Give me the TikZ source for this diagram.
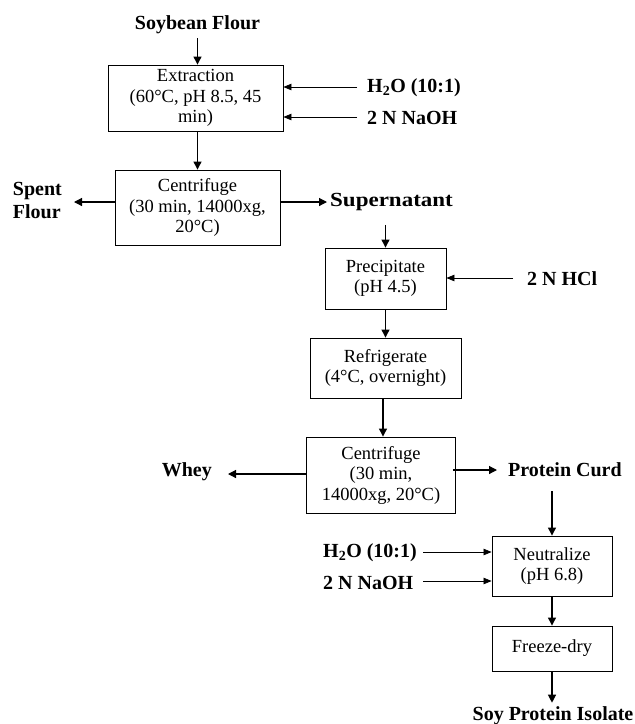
\documentclass[tikz,border=0pt]{standalone}
\usepackage{fontspec}
\setmainfont{Liberation Serif}
\usetikzlibrary{arrows.meta}
\begin{document}
\begin{tikzpicture}[x=1pt,y=-1pt,
  every node/.style={font=\fontsize{18.5}{20.5}\selectfont},
  procbox/.style={draw, line width=0.9pt, align=center, inner sep=0pt},
  lbl/.style={font=\fontsize{20}{23}\selectfont\bfseries, align=left, inner sep=0pt},
  flow/.style={line width=1.2pt, -{Triangle[length=8pt,width=8pt]}},
  feed/.style={line width=0.7pt, -{Triangle[length=8pt,width=6.5pt]}}]
\useasboundingbox (0,0) rectangle (635,724);
% boxes
\node[procbox, minimum width=175pt, minimum height=66pt] (ext) at (195.5,98) {Extraction\\(60°C, pH 8.5, 45\\min)};
\node[procbox, minimum width=165pt, minimum height=75pt] (cen1) at (197.5,207.5) {Centrifuge\\(30 min, 14000xg,\\20°C)};
\node[procbox, minimum width=121pt, minimum height=61pt] (prec) at (385.5,278.5) {Precipitate\\(pH 4.5)};
\node[procbox, minimum width=151pt, minimum height=60pt] (refr) at (385.5,368) {Refrigerate\\(4°C, overnight)};
\node[procbox, minimum width=149pt, minimum height=76pt] (cen2) at (381,475) {Centrifuge\\(30 min,\\14000xg, 20°C)};
\node[procbox, minimum width=120pt, minimum height=60pt] (neut) at (552,566) {Neutralize\\(pH 6.8)};
\node[procbox, minimum width=120pt, minimum height=45pt] (fd) at (552,648.5) {Freeze-dry};
% labels
\node[lbl] (soy) at (197.5,25) {Soybean Flour};
\node[lbl, anchor=west] (h2oa) at (367,88) {H\textsubscript{2}O (10:1)};
\node[lbl, anchor=west] (naoha) at (367,118) {2 N NaOH};
\node[lbl, anchor=east] (spent) at (62,200) {Spent\\Flour};
\node[lbl, anchor=west] (sup) at (330,202) {\scalebox{1.15}[1]{Supernatant}};
\node[lbl, anchor=west] (hcl) at (527,279) {2 N HCl};
\node[lbl, anchor=east] (whey) at (212,472) {Whey};
\node[lbl, anchor=west] (curd) at (508,470) {Protein Curd};
\node[lbl, anchor=west] (h2ob) at (323,553) {H\textsubscript{2}O (10:1)};
\node[lbl, anchor=west] (naohb) at (323,583) {2 N NaOH};
\node[lbl] (spi) at (553,716) {Soy Protein Isolate};
% connectors
\draw[flow, shorten <=4pt] (soy.south) -- (soy.south |- ext.north);
\draw[feed, shorten <=10pt] (h2oa.west |- 0,87) -- (ext.east |- 0,87);
\draw[feed, shorten <=10pt] (naoha.west |- 0,117) -- (ext.east |- 0,117);
\draw[flow] (cen1.north |- ext.south) -- (cen1.north);
\draw[flow, shorten >=12pt] (cen1.west |- 0,202) -- (spent.east |- 0,202);
\draw[flow, shorten >=3pt] (cen1.east |- 0,202) -- (sup.west |- 0,202);
\draw[flow, shorten <=14pt] (prec.north |- sup.south) -- (prec.north);
\draw[feed, shorten <=14pt] (hcl.west |- 0,278) -- (prec.east |- 0,278);
\draw[flow] (prec.south) -- (refr.north);
\draw[flow] ([xshift=2pt]cen2.north |- refr.south) -- ([xshift=2pt]cen2.north);
\draw[flow, shorten >=16pt] (cen2.west |- 0,474) -- (whey.east |- 0,474);
\draw[flow, shorten <=-3pt, shorten >=11pt] (cen2.east |- 0,470) -- (curd.west |- 0,470);
\draw[flow, shorten <=14pt] (neut.north |- curd.south) -- (neut.north);
\draw[feed] (423,552) coordinate (s1) -- (neut.west |- s1);
\draw[feed] (423,581) coordinate (s2) -- (neut.west |- s2);
\draw[flow] (neut.south) -- (fd.north);
\draw[flow, shorten >=4pt] (fd.south) -- (fd.south |- spi.north);
\end{tikzpicture}
\end{document}
